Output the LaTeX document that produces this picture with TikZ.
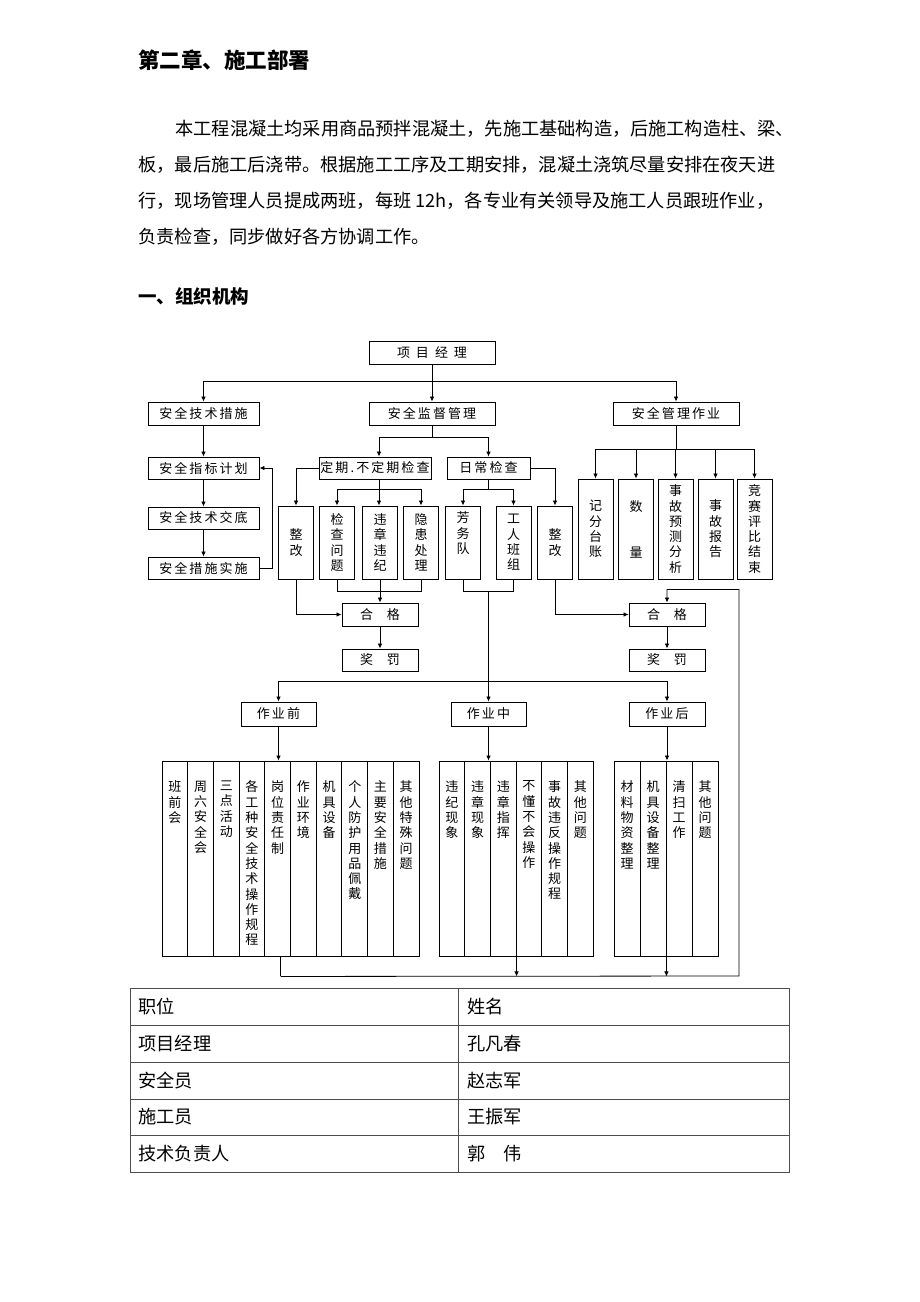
\documentclass[tikz,border=0pt]{standalone}
\usepackage{fontspec}
\setmainfont{Noto Sans CJK SC}
\newfontfamily\chartfont{Noto Sans CJK SC}[LetterSpace=16]
\usetikzlibrary{arrows.meta}
\begin{document}
\begin{tikzpicture}[x=1pt, y=-1pt, line width=0.8pt, >={Latex[length=5pt,width=4.5pt]},
	txt/.style={inner sep=0pt, anchor=west, font=\fontsize{18.2}{18.2}\selectfont},
	box/.style={draw, line width=0.9pt, inner sep=0pt, align=center, font=\chartfont\fontsize{13}{15.3}\selectfont},
	hbox/.style={box, minimum height=23pt},
	vbox/.style={box, minimum width=35pt},
	colbox/.style={box, minimum width=25.7pt, minimum height=195pt},
	coltext/.style={inner sep=0pt, anchor=north, align=center, font=\chartfont\fontsize{13}{15.3}\selectfont}]
	\fill[white] (0,0) rectangle (920,1302);
	\useasboundingbox (0,0) rectangle (920,1302);

	\node[txt, font=\bfseries\fontsize{21.5}{21.5}\selectfont] (title) at (138,60) {第二章、施工部署};
	\node[txt] (p1) at (175,129) {本工程混凝土均采用商品预拌混凝土，先施工基础构造，后施工构造柱、梁、};
	\node[txt] (p2) at (138,165) {板，最后施工后浇带。根据施工工序及工期安排，混凝土浇筑尽量安排在夜天进};
	\node[txt] (p3) at (138,201) {行，现场管理人员提成两班，每班 12h，各专业有关领导及施工人员跟班作业，};
	\node[txt] (p4) at (138,237) {负责检查，同步做好各方协调工作。};
	\node[txt, font=\bfseries\fontsize{18.5}{18.5}\selectfont] (sec) at (138,296) {一、组织机构};

	\node[hbox, minimum width=126pt] (pm) at (432,352.5) {项\hspace{6pt}目\hspace{6pt}经\hspace{6pt}理};
	\node[hbox, minimum width=111pt] (jscs) at (203.5,413.5) {安全技术措施};
	\node[hbox, minimum width=126pt] (jdgl) at (432,413.5) {安全监督管理};
	\node[hbox, minimum width=126pt] (glzy) at (676,413.5) {安全管理作业};
	\node[hbox, minimum width=111pt, minimum height=22pt] (zbjh) at (203.5,468) {安全指标计划};
	\node[hbox, minimum width=111pt, minimum height=22pt] (jsjd) at (203.5,518) {安全技术交底};
	\node[hbox, minimum width=111pt, minimum height=22pt] (cssh) at (203.5,568) {安全措施实施};
	\node[hbox, minimum width=112pt, minimum height=22pt] (dq) at (375,468) {定期.不定期检查};
	\node[hbox, minimum width=83pt, minimum height=22pt] (rc) at (488.5,468) {日常检查};

	\node[vbox, minimum height=73pt] (zg1) at (296,542.5) {整\\改};
	\node[vbox, minimum height=73pt] (jcwt) at (337,542.5) {检\\查\\问\\题};
	\node[vbox, minimum height=73pt] (wzwj) at (380,542.5) {违\\章\\违\\纪};
	\node[vbox, minimum height=73pt] (yhcl) at (421,542.5) {隐\\患\\处\\理};
	\node[vbox, minimum height=73pt] (fwd) at (463,542.5) {芳\\务\\队\\\strut};
	\node[vbox, minimum height=73pt] (grbz) at (513.5,542.5) {工\\人\\班\\组};
	\node[vbox, minimum height=73pt] (zg2) at (555,542.5) {整\\改};

	\node[vbox, minimum height=100pt] (jftz) at (595.5,529) {记\\分\\台\\账};
	\node[vbox, minimum height=100pt] (sl) at (636,529) {数\\[30.6pt]量};
	\node[vbox, minimum height=100pt] (sgyc) at (675.5,529) {事\\故\\预\\测\\分\\析};
	\node[vbox, minimum height=100pt] (sgbg) at (715.5,529) {事\\故\\报\\告};
	\node[vbox, minimum height=100pt] (jsbj) at (754.5,529) {竞\\赛\\评\\比\\结\\束};

	\node[hbox, minimum width=76pt] (hg1) at (380,614.5) {合\hspace{14pt}格};
	\node[hbox, minimum width=76pt, minimum height=22pt] (jf1) at (380,660) {奖\hspace{14pt}罚};
	\node[hbox, minimum width=76pt] (hg2) at (667,614.5) {合\hspace{14pt}格};
	\node[hbox, minimum width=76pt, minimum height=22pt] (jf2) at (667,660) {奖\hspace{14pt}罚};

	\node[hbox, minimum width=75pt, minimum height=24pt] (zyq) at (278.5,714) {作业前};
	\node[hbox, minimum width=75pt, minimum height=24pt] (zyz) at (488.5,714) {作业中};
	\node[hbox, minimum width=76pt, minimum height=24pt] (zyh) at (667,714) {作业后};

	\foreach \t [count=\i] in {{班\\前\\会},{周\\六\\安\\全\\会},{三\\点\\活\\动},{各\\工\\种\\安\\全\\技\\术\\操\\作\\规\\程},{岗\\位\\责\\任\\制},{作\\业\\环\\境},{机\\具\\设\\备},{个\\人\\防\\护\\用\\品\\佩\\戴},{主\\要\\安\\全\\措\\施},{其\\他\\特\\殊\\问\\题}}{
		\node[colbox] (a\i) at ({162+25.7*\i-12.85},858.5) {};
		\node[coltext] (at\i) at ([yshift=-20pt]a\i.north) {\t};
	}
	\foreach \t [count=\i] in {{违\\纪\\现\\象},{违\\章\\现\\象},{违\\章\\指\\挥},{不\\懂\\不\\会\\操\\作},{事\\故\\违\\反\\操\\作\\规\\程},{其\\他\\问\\题}}{
		\node[colbox] (b\i) at ({439+25.7*\i-12.85},858.5) {};
		\node[coltext] (bt\i) at ([yshift=-20pt]b\i.north) {\t};
	}
	\foreach \t [count=\i] in {{材\\料\\物\\资\\整\\理},{机\\具\\设\\备\\整\\理},{清\\扫\\工\\作},{其\\他\\问\\题}}{
		\node[colbox, minimum width=26pt] (c\i) at ({614+26*\i-13},858.5) {};
		\node[coltext] (ct\i) at ([yshift=-20pt]c\i.north) {\t};
	}

	\draw (pm.south) -- ++(0,17) coordinate (t1);
	\draw[->] (t1) -| (jscs.north);
	\draw[->] (t1) -| (glzy.north);
	\draw[->] (pm.south) -- (jdgl.north);
	\draw[->] (jscs.south) -- (zbjh.north);
	\draw[->] (zbjh.south) -- (jsjd.north);
	\draw[->] (jsjd.south) -- (cssh.north);
	\draw[->] (cssh.east) -- ++(13,0) |- (zbjh.east);
	\draw (jdgl.south) -- ++(0,12) coordinate (t2);
	\draw[->] (t2) -| ([xshift=4pt]dq.north);
	\draw[->] (t2) -| (rc.north);
	\draw[->] (dq.west) -| (zg1.north);
	\draw ([xshift=4pt]dq.south) -- ++(0,10) coordinate (t3);
	\draw[->] (t3) -| (jcwt.north);
	\draw[->] (t3) -- (t3 |- wzwj.north);
	\draw[->] (t3) -| (yhcl.north);
	\draw (rc.south) -- ++(0,10) coordinate (t4);
	\draw[->] (t4) -| (fwd.north);
	\draw[->] (t4) -| (grbz.north);
	\draw[->] (rc.east) -| (zg2.north);
	\draw (glzy.south) -- ++(0,24) coordinate (t5);
	\foreach \n in {jftz,sl,sgyc,sgbg,jsbj}
		\draw[->] (t5) -| (\n.north);

	\draw (jcwt.south) -- ++(0,12) -| (yhcl.south);
	\draw[->] (wzwj.south) -- (wzwj.south |- hg1.north);
	\draw[->] (zg1.south) |- (hg1.west);
	\draw[->] (hg1.south) -- (jf1.north);
	\draw (fwd.south) -- ++(0,12) -| (grbz.south);
	\draw[->] (zg2.south) |- (hg2.west);
	\draw[->] (hg2.south) -- (jf2.north);
	\coordinate (t6) at (488.5,591);
	\draw[->] (t6) -- (t6 |- zyz.north);
	\coordinate (t7) at ([yshift=20pt]zyz.north);
	\draw[->] (t7) -| (zyq.north);
	\draw[->] (t7) -| (zyh.north);

	\draw[->] (zyq.south) -- (zyq.south |- a5.north);
	\draw[->] (zyz.south) -- (zyz.south |- b3.north);
	\draw[->] (zyh.south) -- (zyh.south |- c3.north);
	\draw ([xshift=3pt]a5.south) -- ++(0,20) coordinate (t8);
	\draw[->] (b3.south east) -- ++(0,20);
	\draw[->] (c2.south east) -- ++(0,20);
	\coordinate (r1) at (739,976);
	\coordinate (t9) at ([yshift=13pt]hg2.north);
	\draw[->] (t8) -- (r1) |- (t9) -- (hg2.north);

	\draw[black!70] (130,988) rectangle (789,1172);
	\foreach \y in {1025,1062,1099,1135}
		\draw[black!70] (130,\y) -- (789,\y);
	\draw[black!70] (458,988) -- (458,1172);
	\foreach \a/\b [count=\i] in {职位/姓名,项目经理/孔凡春,安全员/赵志军,施工员/王振军,技术负责人/郭　伟}{
		\node[txt] (l\i) at (138,{1006.5+36.8*(\i-1)}) {\a};
		\node[txt] (r\i) at (467,{1006.5+36.8*(\i-1)}) {\b};
	}
\end{tikzpicture}
\end{document}
